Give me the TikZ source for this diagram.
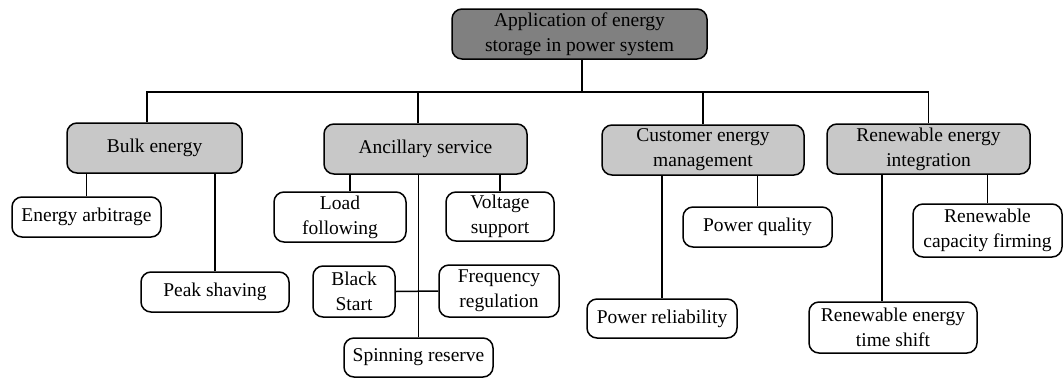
\documentclass[tikz,border=0pt]{standalone}
\usepackage{fontspec}
\setmainfont{Liberation Serif}
\usetikzlibrary{positioning}
\definecolor{rootgray}{RGB}{128,128,128}
\definecolor{catgray}{RGB}{200,200,200}

\begin{document}
\begin{tikzpicture}[
x=1pt,y=-1pt,
box/.style={
  draw,
  line width=1.5pt,
  rounded corners=10pt,
  align=center,
  inner sep=2pt,
  font=\fontsize{19.5}{25}\selectfont
},
root/.style={
  box,
  fill=rootgray,
  minimum width=255pt,
  minimum height=50pt
},
cat/.style={
  box,
  fill=catgray,
  minimum height=50pt
},
leaf/.style={
  box,
  fill=white
},
link/.style={line width=1.5pt}
]
\useasboundingbox (0,0) rectangle (1064,378);

% top level
\node[root] (root) at (579.5,34)
  {Application of energy\\storage in power system};
\coordinate (bar) at (0,92);

% categories
\node[cat,minimum width=175pt] (bulk) at (154.5,148) {Bulk energy};
\node[cat,minimum width=203pt] (anc) at (425.5,149) {Ancillary service};
\node[cat,minimum width=202pt] (cust) at (703,150)
  {Customer energy\\management};
\node[cat,minimum width=203pt] (ren) at (928.5,149)
  {Renewable energy\\integration};

% bulk energy
\node[leaf,minimum width=149pt,minimum height=40pt] (arb) at (86.5,217)
  {Energy arbitrage};
\node[leaf,minimum width=148pt,minimum height=40pt] (peak) at (215,292)
  {Peak shaving};

% ancillary service
\node[leaf,minimum width=132pt,minimum height=50pt] (load) at (340,217)
  {Load\\following};
\node[leaf,minimum width=108pt,minimum height=49pt] (volt) at (500,216.5)
  {Voltage\\support};
\node[leaf,minimum width=82pt,minimum height=51pt] (black) at (354,291.5)
  {Black\\Start};
\node[leaf,minimum width=120pt,minimum height=52pt] (freq) at (499,291)
  {Frequency\\regulation};
\node[leaf,minimum width=149pt,minimum height=39pt] (spin) at (418.5,357.5)
  {Spinning reserve};

% customer energy management
\node[leaf,minimum width=149pt,minimum height=40pt] (pq) at (757.5,227)
  {Power quality};
\node[leaf,minimum width=150pt,minimum height=39pt] (pr) at (662,318.5)
  {Power reliability};

% renewable energy integration
\node[leaf,minimum width=149pt,minimum height=53pt] (firm) at (987.5,230.5)
  {Renewable\\capacity firming};
\node[leaf,minimum width=168pt,minimum height=51pt] (shift) at (893,327.5)
  {Renewable energy\\time shift};

% connectors
\draw[link] ([xshift=2.5pt]root.south) -- ([xshift=2.5pt]root.south |- bar);
\draw[link] ([xshift=-7.5pt]bulk.north) -- ([xshift=-7.5pt]bulk.north |- bar)
  -| (ren.north);
\draw[link] ([xshift=-7.5pt]anc.north) -- ([xshift=-7.5pt]anc.north |- bar);
\draw[link] (cust.north) -- (cust.north |- bar);

\draw[link] (arb.north) -- (arb.north |- bulk.south);
\draw[link] (peak.north) -- (peak.north |- bulk.south);

\draw[link] ([xshift=10pt]load.north) -- ([xshift=10pt]load.north |- anc.south);
\draw[link] (volt.north) -- (volt.north |- anc.south);
\draw[link] (spin.north) -- (spin.north |- anc.south);
\draw[link] (black.east) -- (freq.west);

\draw[link] (pq.north) -- (pq.north |- cust.south);
\draw[link] (pr.north) -- (pr.north |- cust.south);

\draw[link] (firm.north) -- (firm.north |- ren.south);
\draw[link] ([xshift=-11pt]shift.north) -- ([xshift=-11pt]shift.north |- ren.south);
\end{tikzpicture}
\end{document}
